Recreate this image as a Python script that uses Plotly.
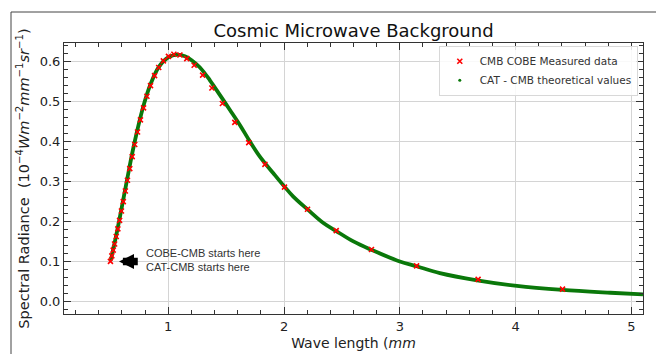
import plotly.graph_objects as go

# COBE measured data (wavelength mm, spectral radiance)
cobe_wl = [4.405, 3.676, 3.145, 2.755, 2.451, 2.203, 2.004, 1.835, 1.695, 1.575,
           1.468, 1.377, 1.297, 1.224, 1.160, 1.101, 1.049, 1.002, 0.958, 0.918,
           0.882, 0.847, 0.816, 0.787, 0.760, 0.735, 0.711, 0.689, 0.668, 0.648,
           0.630, 0.612, 0.596, 0.580, 0.565, 0.551, 0.537, 0.525, 0.513, 0.501]
cobe_val = [0.031, 0.0555, 0.089, 0.1298, 0.1771, 0.2304, 0.2855, 0.3423, 0.3964, 0.4469,
            0.494, 0.5328, 0.565, 0.5896, 0.6061, 0.6152, 0.6169, 0.6117, 0.6004, 0.5839,
            0.5636, 0.5386, 0.5122, 0.4833, 0.4533, 0.4230, 0.3917, 0.3616, 0.3317, 0.3025,
            0.2759, 0.2493, 0.2258, 0.2027, 0.1815, 0.1622, 0.1437, 0.1284, 0.1140, 0.1002]

# CAT theoretical curve
cat_wl = [0.505, 0.525, 0.551, 0.580, 0.612, 0.648, 0.689, 0.735, 0.787, 0.847,
          0.918, 1.000, 1.078, 1.144, 1.202, 1.274, 1.360, 1.447, 1.533, 1.620,
          1.706, 1.793, 1.908, 2.000, 2.080, 2.203, 2.340, 2.451, 2.599, 2.755,
          3.000, 3.145, 3.346, 3.668, 4.011, 4.405, 4.818, 5.100]
cat_val = [0.103, 0.131, 0.165, 0.207, 0.255, 0.309, 0.370, 0.430, 0.489, 0.542,
           0.585, 0.609, 0.616, 0.612, 0.602, 0.584, 0.552, 0.515, 0.478, 0.440,
           0.399, 0.361, 0.320, 0.288, 0.262, 0.230, 0.196, 0.176, 0.150, 0.129,
           0.100, 0.088, 0.071, 0.053, 0.039, 0.029, 0.022, 0.018]

GREEN = "#0a780a"
fig = go.Figure()
fig.add_trace(go.Scatter(x=cat_wl, y=cat_val, mode="lines", line=dict(color=GREEN, width=3.8, shape="spline"),
                         showlegend=False, hoverinfo="skip"))
fig.add_trace(go.Scatter(x=cobe_wl, y=cobe_val, mode="markers", name="CMB COBE Measured data",
                         marker=dict(symbol="x-thin", size=5, color="red", line=dict(color="red", width=1.6))))
fig.add_trace(go.Scatter(x=[None], y=[None], mode="markers", name="CAT - CMB theoretical values",
                         marker=dict(symbol="circle", size=3, color=GREEN)))

axis_common = dict(
    showgrid=True, gridcolor="#d4d4d4", gridwidth=1.3,
    ticks="inside", ticklen=7, tickwidth=1, tickcolor="#333",
    mirror="ticks", showline=True, linecolor="#333", linewidth=1, zeroline=False,
    tickfont=dict(family="DejaVu Sans", size=13, color="#222"),
    automargin=False,
)

fig.update_layout(
    width=656, height=354,
    margin=dict(l=64, r=13, t=43, b=40),
    paper_bgcolor="white", plot_bgcolor="white",
    font=dict(family="DejaVu Sans", color="#222"),
    title=dict(text="Cosmic Microwave Background", x=0.5, xref="paper", xanchor="center",
               y=0.912, yanchor="middle", font=dict(family="DejaVu Sans", size=18, color="#111"),
               automargin=False),
    xaxis=dict(range=[0.1, 5.1], dtick=1, tick0=0,
               minor=dict(ticks="inside", dtick=0.2, tick0=0, ticklen=4, tickcolor="#333", showgrid=False),
               title=dict(text="Wave length (<i>mm</i>", font=dict(size=14, family="DejaVu Sans"), standoff=5),
               **axis_common),
    yaxis=dict(range=[-0.031, 0.645], dtick=0.1, tick0=0, tickformat=".1f",
               minor=dict(ticks="inside", dtick=0.02, tick0=0, ticklen=4, tickcolor="#333", showgrid=False),
               title=dict(text="Spectral Radiance  (10<sup>−4</sup><i>Wm</i><sup>−2</sup><i>mm</i><sup>−1</sup><i>sr</i><sup>−1</sup>)",
                          font=dict(size=14.5, family="DejaVu Sans"), standoff=6),
               **axis_common),
    legend=dict(x=0.991, y=0.99, xanchor="right", yanchor="top",
                bgcolor="rgba(255,255,255,0.85)", bordercolor="#d8d8d8", borderwidth=1,
                font=dict(family="DejaVu Sans", size=10.5, color="#333"),
                tracegroupgap=0, itemwidth=30),
    showlegend=True,
)

# arrow and note
fig.add_annotation(x=0.575, y=0.1, ax=0.75, ay=0.1, axref="x", ayref="y", xref="x", yref="y",
                   text="", showarrow=True, arrowhead=2, arrowsize=0.4, arrowwidth=7.5, arrowcolor="black")
fig.add_annotation(x=0.79, y=0.104, xref="x", yref="y", xanchor="left", yanchor="middle", align="left",
                   text="COBE-CMB starts here<br>CAT-CMB starts here", showarrow=False,
                   font=dict(family="Liberation Sans", size=11, color="#333"))

# outer frame lines of the picture
fig.add_shape(type="line", xref="paper", yref="paper", x0=(11 - 64) / 579, x1=(656 - 64) / 579,
              y0=(314 - 12) / 271, y1=(314 - 12) / 271, line=dict(color="#444", width=1))
fig.add_shape(type="line", xref="paper", yref="paper", x0=(11 - 64) / 579, x1=(11 - 64) / 579,
              y0=(314 - 12) / 271, y1=(314 - 354) / 271, line=dict(color="#444", width=1))

fig.write_html("out.html")
